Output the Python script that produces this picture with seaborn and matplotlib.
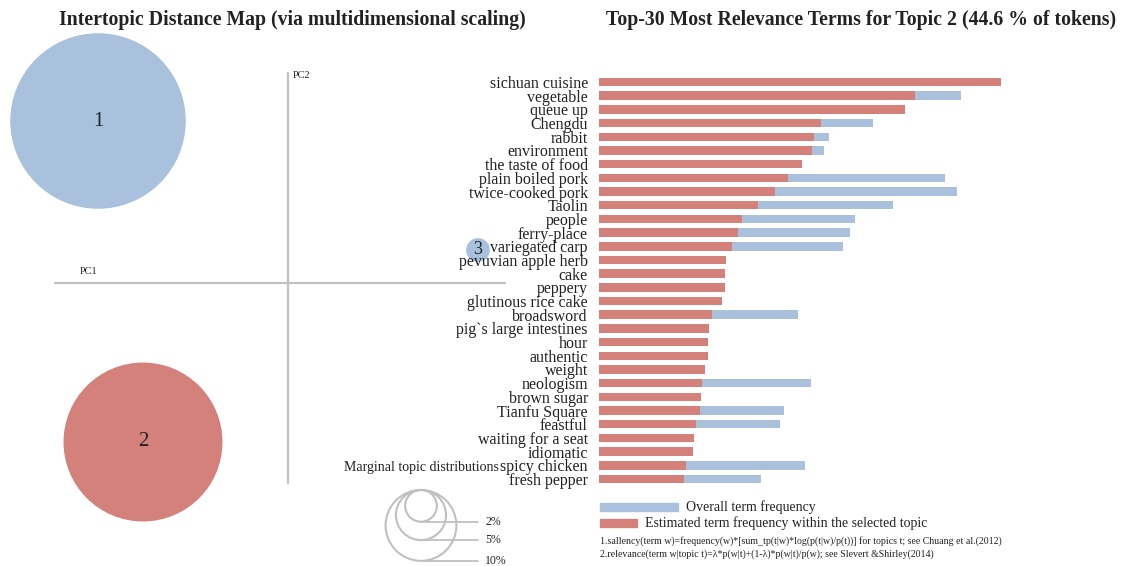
import numpy as np
import pandas as pd
import matplotlib
matplotlib.use("Agg")
import matplotlib.pyplot as plt
import seaborn as sns
from matplotlib.patches import Rectangle

# ---------------- data ----------------
terms = ["sichuan cuisine", "vegetable", "queue up", "Chengdu", "rabbit", "environment",
         "the taste of food", "plain boiled pork", "twice-cooked pork", "Taolin", "people",
         "ferry-place", "variegated carp", "pevuvian apple herb", "cake", "peppery",
         "glutinous rice cake", "broadsword", "pig`s large intestines", "hour", "authentic",
         "weight", "neologism", "brown sugar", "Tianfu Square", "feastful",
         "waiting for a seat", "idiomatic", "spicy chicken", "fresh pepper"]
estimated = [402, 316, 306, 222, 215, 213, 203, 189, 176, 159, 142.5, 138.5, 133, 126.6,
             126, 126, 123, 113, 110, 108.5, 108.5, 105.5, 103, 102, 101, 96.6, 95, 93.7,
             87, 85]
overall = [402, 361.5, 306, 274, 230, 225, 203, 346, 358, 294, 256, 251, 243.5, 126.6,
           126, 126, 123, 199, 110, 108.5, 108.5, 105.5, 212, 102, 185, 181, 95, 93.7,
           206, 162]

topic_ids = ["1", "2", "3"]
topic_pc1 = [-0.190, -0.145, 0.190]
topic_pc2 = [0.162, -0.159, 0.033]
topic_share = [54.4, 44.6, 1.0]

legend_shares = [2, 5, 10]
legend_labels = ["2%", "5%", "10%"]

# ---------------- style ----------------
sns.set_theme(style="white")
plt.rcParams['font.family'] = ['Liberation Serif', 'DejaVu Serif']

RED = "#d4817b"
BLUE = "#a9c1dd"
GRAY = "#c0c0c0"
TXT = "#222222"

W, H = 1126, 566
fig = plt.figure(figsize=(W / 100, H / 100), dpi=100)
fig.patch.set_facecolor("white")

# ---------------- left panel: intertopic distance map ----------------
ax_m = fig.add_axes([0, 0, 560 / W, 1])
ax_m.set_xlim(-0.288, 0.272)
ax_m.set_ylim(-0.283, 0.283)
ax_m.axis("off")

# crosshair axes
ax_m.plot([-0.233, 0.217], [0, 0], color=GRAY, lw=1.6, zorder=1)
ax_m.plot([0, 0], [-0.200, 0.210], color=GRAY, lw=1.6, zorder=1)
ax_m.text(-0.208, 0.007, "PC1", fontsize=7.5, color=TXT, va="bottom", ha="left")
ax_m.text(0.005, 0.203, "PC2", fontsize=7.5, color=TXT, va="bottom", ha="left")

# topic circles (radius in px ~ k*sqrt(share); 1000 px per unit)
k_topic = 11.9
px_per_pt = 100 / 72
topic_r_px = [k_topic * np.sqrt(s) for s in topic_share]
sizes = [(2 * r / px_per_pt) ** 2 for r in topic_r_px]
mds = pd.DataFrame({"pc1": topic_pc1, "pc2": topic_pc2, "topic": topic_ids})
sns.scatterplot(data=mds, x="pc1", y="pc2", hue="topic",
                palette={"1": BLUE, "2": RED, "3": BLUE},
                s=sizes, linewidth=0, alpha=1, legend=False, ax=ax_m, zorder=2)
for t, x, y, sh in zip(topic_ids, topic_pc1, topic_pc2, topic_share):
    ax_m.text(x, y, t, fontsize=15 if sh > 5 else 13, color=TXT,
              ha="center", va="center", zorder=3)
ax_m.set_xlabel("")
ax_m.set_ylabel("")

# marginal topic distribution legend
k_leg = 11.2
leg_cx = 0.133
leg_top = -0.207
ax_m.text(0.056, -0.185, "Marginal topic distributions", fontsize=10, color=TXT,
          ha="left", va="center")
for sh, lab in zip(legend_shares, legend_labels):
    r = k_leg * np.sqrt(sh) / 1000
    cy = leg_top - r
    ax_m.add_patch(plt.Circle((leg_cx, cy), r, fill=False, edgecolor=GRAY, lw=1.5))
    ax_m.plot([leg_cx, 0.190], [cy - r, cy - r], color=GRAY, lw=1.3)
    ax_m.text(0.197, cy - r, lab, fontsize=8.5, color=TXT, ha="left", va="center")

fig.text(292 / W, 1 - 20 / H, "Intertopic Distance Map (via multidimensional scaling)",
         fontsize=14.2, fontweight="bold", color=TXT, ha="center", va="center")

# ---------------- right panel: bar chart ----------------
df = pd.DataFrame({"term": terms, "overall": overall, "estimated": estimated})
row_h = 13.69
ax_b = fig.add_axes([599 / W, (H - (82 + 29 * row_h + row_h / 2)) / H,
                     500 / W, 30 * row_h / H])
sns.barplot(data=df, y="term", x="overall", color=BLUE, width=0.62, saturation=1,
            errorbar=None, orient="h", linewidth=0, ax=ax_b)
sns.barplot(data=df, y="term", x="estimated", color=RED, width=0.62, saturation=1,
            errorbar=None, orient="h", linewidth=0, ax=ax_b)
ax_b.set_xlim(0, 500)
ax_b.set_xticks([])
ax_b.set_xlabel("")
ax_b.set_ylabel("")
ax_b.tick_params(axis="y", length=0, pad=8, labelsize=11.5, labelcolor=TXT)
for sp in ax_b.spines.values():
    sp.set_visible(False)
ax_b.patch.set_alpha(0)

fig.text(861 / W, 1 - 20 / H, "Top-30 Most Relevance Terms for Topic 2 (44.6 % of tokens)",
         fontsize=14.2, fontweight="bold", color=TXT, ha="center", va="center")

# legend swatches
fig.patches.append(Rectangle((600 / W, 1 - 511 / H), 78 / W, 8 / H,
                             transform=fig.transFigure, color=BLUE, figure=fig))
fig.patches.append(Rectangle((600 / W, 1 - 527 / H), 37 / W, 8 / H,
                             transform=fig.transFigure, color=RED, figure=fig))
fig.text(686 / W, 1 - 507 / H, "Overall term frequency", fontsize=10, color=TXT,
         ha="left", va="center")
fig.text(645 / W, 1 - 523 / H, "Estimated term frequency within the selected topic",
         fontsize=10, color=TXT, ha="left", va="center")
fig.text(600 / W, 1 - 541 / H,
         "1.sallency(term w)=frequency(w)*[sum_tp(t|w)*log(p(t|w)/p(t))] for topics t; see Chuang et al.(2012)",
         fontsize=7.15, color=TXT, ha="left", va="center")
fig.text(600 / W, 1 - 554 / H,
         "2.relevance(term w|topic t)=λ*p(w|t)+(1-λ)*p(w|t)/p(w); see Slevert &Shirley(2014)",
         fontsize=7.15, color=TXT, ha="left", va="center")

fig.savefig("out.png", dpi=100, facecolor="white")
